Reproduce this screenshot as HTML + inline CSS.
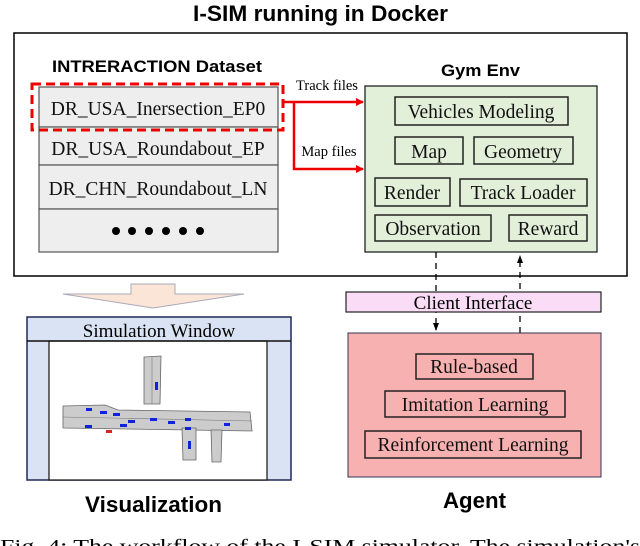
<!DOCTYPE html>
<html><head><meta charset="utf-8"><style>
body{margin:0;width:640px;height:546px;overflow:hidden;background:#fff;}
svg{display:block}
.s{font-family:"Liberation Serif",serif;}
.b{font-family:"Liberation Sans",sans-serif;font-weight:bold;}
</style></head><body>
<svg width="640" height="546" viewBox="0 0 640 546">
<defs>
<marker id="ra" markerWidth="8" markerHeight="8" refX="7" refY="4" orient="auto" markerUnits="userSpaceOnUse"><path d="M0,0 L8,4 L0,8z" fill="#e00"/></marker>
<marker id="ka" markerWidth="8" markerHeight="8" refX="7" refY="4" orient="auto" markerUnits="userSpaceOnUse"><path d="M0,1 L8,4 L0,7z" fill="#000"/></marker>
</defs>
<text x="193" y="21" class="b" font-size="22" textLength="255" lengthAdjust="spacingAndGlyphs">I-SIM running in Docker</text>
<rect x="14" y="33" width="613" height="243" fill="none" stroke="#000" stroke-width="1.5"/>
<text x="52" y="72" class="b" font-size="17" textLength="210" lengthAdjust="spacingAndGlyphs">INTRERACTION Dataset</text>
<g fill="#eee" stroke="#555" stroke-width="1.2">
<rect x="39" y="87" width="239" height="40"/><rect x="39" y="127" width="239" height="38"/><rect x="39" y="165" width="239" height="44"/><rect x="39" y="209" width="239" height="43"/>
</g>
<g class="s" font-size="19.5" text-anchor="middle" fill="#111">
<text x="158" y="115">DR_USA_Inersection_EP0</text>
<text x="158" y="155">DR_USA_Roundabout_EP</text>
<text x="158" y="195">DR_CHN_Roundabout_LN</text>
</g>
<g fill="#000"><circle cx="116" cy="231" r="4"/><circle cx="132" cy="231" r="4"/><circle cx="149" cy="231" r="4"/><circle cx="166" cy="231" r="4"/><circle cx="183" cy="231" r="4"/><circle cx="200" cy="231" r="4"/></g>
<rect x="32" y="84" width="251" height="46" fill="none" stroke="#e00" stroke-width="3" stroke-dasharray="9,5"/>
<path d="M283 102 H363" stroke="#e00" stroke-width="2.5" marker-end="url(#ra)" fill="none"/>
<path d="M294 102 V169 H363" stroke="#e00" stroke-width="2.5" marker-end="url(#ra)" fill="none"/>
<text x="327" y="90" text-anchor="middle" class="s" font-size="14.5">Track files</text>
<text x="329" y="156" text-anchor="middle" class="s" font-size="14.5">Map files</text>
<text x="441" y="76" class="b" font-size="17" textLength="79" lengthAdjust="spacingAndGlyphs">Gym Env</text>
<rect x="365" y="86" width="232" height="166" fill="#e2efd9" stroke="#222" stroke-width="1.3"/>
<g fill="none" stroke="#222" stroke-width="1.5">
<rect x="395" y="97" width="173" height="28"/><rect x="395" y="137" width="68" height="27"/><rect x="474" y="137" width="99" height="27"/>
<rect x="375" y="178" width="75" height="28"/><rect x="460" y="179" width="127" height="27"/>
<rect x="375" y="215" width="116" height="26"/><rect x="509" y="215" width="78" height="26"/>
</g>
<g class="s" font-size="19.5" text-anchor="middle" fill="#111">
<text x="481" y="118">Vehicles Modeling</text><text x="429" y="158">Map</text><text x="523" y="158">Geometry</text>
<text x="412" y="199">Render</text><text x="523" y="199">Track Loader</text>
<text x="433" y="235">Observation</text><text x="548" y="235">Reward</text>
</g>
<path d="M436 252 V330" stroke="#000" stroke-width="1.3" stroke-dasharray="6,5" fill="none" marker-end="url(#ka)"/>
<path d="M520 333 V256" stroke="#000" stroke-width="1.3" stroke-dasharray="6,5" fill="none" marker-end="url(#ka)"/>
<rect x="346" y="292" width="255" height="20" fill="#fadcf6" stroke="#222" stroke-width="1.2"/>
<text x="473" y="309" text-anchor="middle" class="s" font-size="19">Client Interface</text>
<rect x="348" y="333" width="253" height="144" fill="#f8b1b1" stroke="#335" stroke-width="1"/>
<g fill="none" stroke="#222" stroke-width="1.5">
<rect x="416" y="354" width="117" height="25"/><rect x="385" y="391" width="180" height="26"/><rect x="365" y="431" width="216" height="27"/>
</g>
<g class="s" font-size="19.5" text-anchor="middle" fill="#111">
<text x="474" y="373">Rule-based</text><text x="475" y="411">Imitation Learning</text><text x="473" y="451">Reinforcement Learning</text>
</g>
<text x="443" y="508" class="b" font-size="22" textLength="63" lengthAdjust="spacingAndGlyphs">Agent</text>
<path d="M131 284 H175 V294 H244 L153 308 L63 294 H131Z" fill="#fbe5d6" stroke="#aab" stroke-width="1"/>
<rect x="27" y="317" width="264" height="163" fill="#dae3f3" stroke="#1f2a55" stroke-width="1.5"/>
<rect x="49" y="341" width="218" height="139" fill="#fff" stroke="#111" stroke-width="1.2"/>
<line x1="27" y1="341" x2="291" y2="341" stroke="#111" stroke-width="1.5"/>
<text x="159" y="337" text-anchor="middle" class="s" font-size="19">Simulation Window</text>
<g fill="#ccc" stroke="#666" stroke-width="0.8">
<path d="M144 357 L161 356 L160 404 L144 404Z"/>
<path d="M63 406 L105 405 L118 410 L250 412 L252 431 L63 428Z"/>
<path d="M182 428 L196 428 L196 460 L183 460Z"/>
<path d="M211 430 L222 430 L221 462 L212 462Z"/>
</g>
<g stroke="#777" stroke-width="0.6"><line x1="152" y1="357" x2="152" y2="404"/><line x1="63" y1="417" x2="252" y2="421"/></g>
<g fill="#1122dd">
<rect x="155" y="382" width="3" height="8"/><rect x="86" y="408" width="6" height="3"/><rect x="100" y="411" width="7" height="3"/><rect x="113" y="413" width="7" height="3"/>
<rect x="85" y="425" width="7" height="3"/><rect x="120" y="424" width="7" height="3"/><rect x="128" y="420" width="7" height="3"/><rect x="150" y="418" width="7" height="3"/>
<rect x="168" y="421" width="7" height="3"/><rect x="185" y="418" width="6" height="3"/><rect x="185" y="427" width="6" height="3"/><rect x="188" y="441" width="3" height="8"/><rect x="224" y="423" width="6" height="3"/>
</g>
<rect x="106" y="430" width="6" height="3" fill="#d22"/>
<text x="85" y="512" class="b" font-size="22" textLength="137" lengthAdjust="spacingAndGlyphs">Visualization</text>
<text x="0" y="553" class="s" font-size="20" textLength="640" lengthAdjust="spacingAndGlyphs">Fig. 4: The workflow of the I-SIM simulator. The simulation's</text>
</svg>
</body></html>
